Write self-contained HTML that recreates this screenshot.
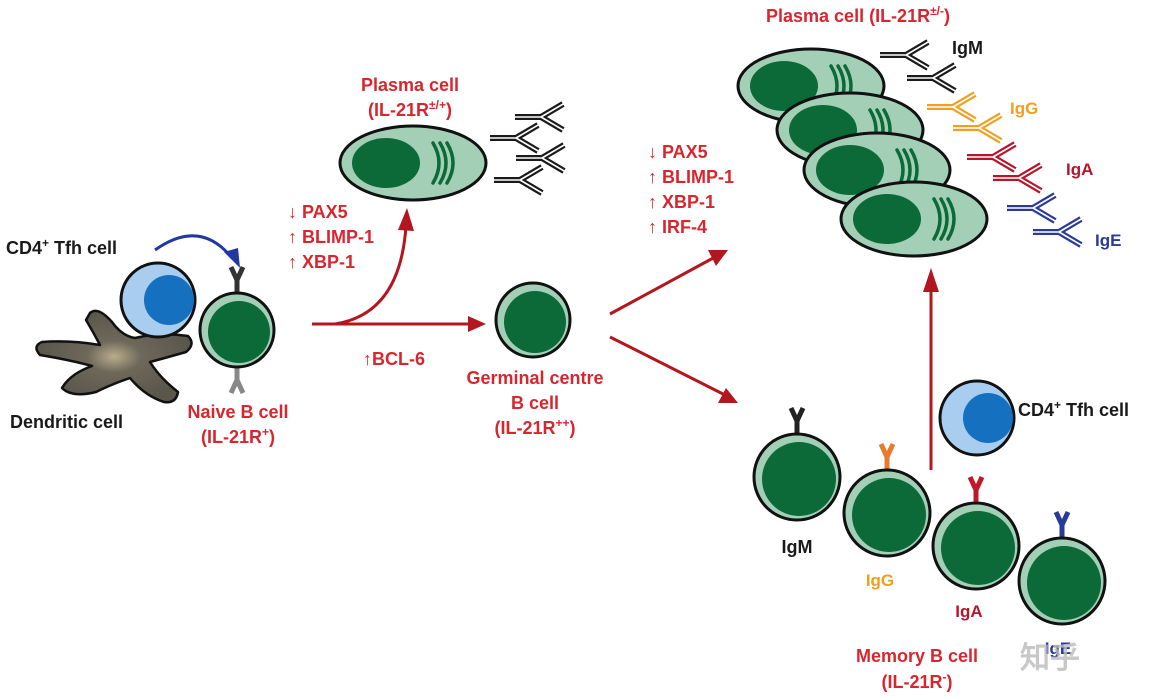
<!DOCTYPE html>
<html><head><meta charset="utf-8"><style>
html,body{margin:0;padding:0;background:#fff;}
svg{display:block;}
text{font-family:"Liberation Sans",Arial,sans-serif;font-weight:bold;}
.r{fill:#d8262f;font-size:18px;}
.k{fill:#1a1a1a;font-size:18px;}
</style></head><body>
<svg width="1158" height="699" viewBox="0 0 1158 699" xmlns="http://www.w3.org/2000/svg">
<defs>
<radialGradient id="dg" cx="0.5" cy="0.5" r="0.5">
<stop offset="0" stop-color="#b8ad8c"/><stop offset="0.35" stop-color="#6e685a"/><stop offset="1" stop-color="#5a564c"/>
</radialGradient>
<g id="ab">
<path d="M0,0 H26 M26,0 L48,-13 M26,0 L48,13" fill="none" stroke="currentColor" stroke-width="6"/>
<path d="M-1,0 H26 M26,0 L49,-13.5 M26,0 L49,13.5" fill="none" stroke="#fff" stroke-width="1.6"/>
</g>
<g id="pc">
<ellipse cx="0" cy="0" rx="73" ry="37" fill="#a3cfb6" stroke="#111" stroke-width="3"/>
<ellipse cx="-27" cy="0" rx="34" ry="25" fill="#0b6a37"/>
<path d="M20,-20 Q32,0 20,20 M27,-20 Q39,0 27,20 M34,-20 Q46,0 34,20" fill="none" stroke="#0b6a37" stroke-width="3.5" stroke-linecap="round"/>
</g>
<g id="bc">
<circle cx="0" cy="0" r="37" fill="#a3cfb6" stroke="#111" stroke-width="3"/>
<circle cx="2" cy="2" r="31" fill="#0b6a37"/>
</g>
<g id="bm">
<circle cx="0" cy="0" r="43" fill="#a3cfb6" stroke="#111" stroke-width="3"/>
<circle cx="2" cy="2" r="37" fill="#0b6a37"/>
</g>
<g id="tf">
<circle cx="0" cy="0" r="37" fill="#a8cdee" stroke="#111" stroke-width="3"/>
<circle cx="11" cy="0" r="25" fill="#1570c0"/>
</g>
<g id="y">
<path d="M0,0 V-13 M0,-13 L-6,-26 M0,-13 L6,-26" fill="none" stroke="currentColor" stroke-width="5"/>
</g>
</defs>

<!-- Dendritic cell -->
<path d="M90,313 Q98,306 112,322 Q122,336 135,338 Q160,332 188,336 Q196,344 186,352 Q165,358 150,362 Q160,378 178,392 Q176,404 164,402 Q145,396 130,378 Q112,384 96,392 Q72,398 62,388 Q70,374 92,366 Q70,360 40,355 Q32,346 42,342 Q70,340 100,345 Q92,330 86,320 Z" fill="url(#dg)" stroke="#111" stroke-width="2.5" stroke-linejoin="round"/>

<!-- Tfh & naive B -->
<use href="#tf" x="158" y="300"/>
<g color="#333"><use href="#y" x="237" y="293"/></g>
<g color="#888" transform="translate(237,367) scale(1,-1)"><use href="#y"/></g>
<use href="#bc" x="237" y="330"/>
<path d="M155,250 Q200,218 232,258" fill="none" stroke="#2238a0" stroke-width="3"/>
<path d="M224,252 L240,268 L238,248 Z" fill="#2238a0"/>
<text class="k" x="6" y="254">CD4<tspan font-size="12" dy="-7">+</tspan><tspan dy="7"> Tfh cell</tspan></text>
<text class="k" x="10" y="428">Dendritic cell</text>
<text class="r" x="238" y="418" text-anchor="middle">Naive B cell</text>
<text class="r" x="238" y="443" text-anchor="middle">(IL-21R<tspan font-size="12" dy="-7">+</tspan><tspan dy="7">)</tspan></text>

<!-- Plasma cell top -->
<text class="r" x="410" y="91" text-anchor="middle">Plasma cell</text>
<text class="r" x="410" y="116" text-anchor="middle">(IL-21R<tspan font-size="12" dy="-7">±/+</tspan><tspan dy="7">)</tspan></text>
<use href="#pc" x="413" y="163"/>
<g color="#1a1a1a">
<use href="#ab" x="515" y="117"/><use href="#ab" x="490" y="138"/>
<use href="#ab" x="516" y="158"/><use href="#ab" x="494" y="180"/>
</g>
<text class="r" x="288" y="218">↓ PAX5</text>
<text class="r" x="288" y="243">↑ BLIMP-1</text>
<text class="r" x="288" y="268">↑ XBP-1</text>

<!-- arrows from naive -->
<path d="M312,324 H470" stroke="#b3161f" stroke-width="3" fill="none"/>
<path d="M468,316 L486,324 L468,332 Z" fill="#b3161f"/>
<path d="M335,324 Q400,314 406,226" stroke="#b3161f" stroke-width="3" fill="none"/>
<path d="M398,230 L407,208 L414,231 Z" fill="#b3161f"/>
<text class="r" x="363" y="365">↑BCL-6</text>

<!-- GC B cell -->
<use href="#bc" x="533" y="320"/>
<text class="r" x="535" y="384" text-anchor="middle">Germinal centre</text>
<text class="r" x="535" y="409" text-anchor="middle">B cell</text>
<text class="r" x="535" y="434" text-anchor="middle">(IL-21R<tspan font-size="12" dy="-7">++</tspan><tspan dy="7">)</tspan></text>
<path d="M610,314 L715,257" stroke="#b3161f" stroke-width="3"/>
<path d="M708,250 L728,250 L716,266 Z" fill="#b3161f"/>
<path d="M610,337 L725,395" stroke="#b3161f" stroke-width="3"/>
<path d="M718,403 L738,403 L726,388 Z" fill="#b3161f"/>
<text class="r" x="648" y="158">↓ PAX5</text>
<text class="r" x="648" y="183">↑ BLIMP-1</text>
<text class="r" x="648" y="208">↑ XBP-1</text>
<text class="r" x="648" y="233">↑ IRF-4</text>

<!-- Plasma stack -->
<text class="r" x="766" y="22">Plasma cell (IL-21R<tspan font-size="12" dy="-7">±/-</tspan><tspan dy="7">)</tspan></text>
<use href="#pc" x="811" y="86"/>
<use href="#pc" x="850" y="130"/>
<use href="#pc" x="877" y="170"/>
<use href="#pc" x="914" y="219"/>
<g color="#1a1a1a"><use href="#ab" x="880" y="55"/><use href="#ab" x="907" y="78"/></g>
<g color="#f0a020"><use href="#ab" x="927" y="107"/><use href="#ab" x="953" y="128"/></g>
<g color="#b5162b"><use href="#ab" x="967" y="157"/><use href="#ab" x="993" y="178"/></g>
<g color="#2a3a9a"><use href="#ab" x="1007" y="208"/><use href="#ab" x="1033" y="232"/></g>
<text class="k" x="952" y="54" font-size="17">IgM</text>
<text x="1010" y="114" font-size="17" fill="#f0a020">IgG</text>
<text x="1066" y="175" font-size="17" fill="#b5162b">IgA</text>
<text x="1095" y="246" font-size="17" fill="#2a3a9a">IgE</text>

<!-- memory up arrow -->
<path d="M931,470 V290" stroke="#b3161f" stroke-width="3"/>
<path d="M923,292 L931,268 L939,292 Z" fill="#b3161f"/>

<use href="#tf" x="977" y="418"/>
<text class="k" x="1018" y="416">CD4<tspan font-size="12" dy="-7">+</tspan><tspan dy="7"> Tfh cell</tspan></text>

<!-- memory cells -->
<g color="#222"><use href="#y" x="797" y="434"/></g>
<use href="#bm" x="797" y="477"/>
<g color="#e87a2e"><use href="#y" x="887" y="470"/></g>
<use href="#bm" x="887" y="513"/>
<g color="#c0182a"><use href="#y" x="976" y="503"/></g>
<use href="#bm" x="976" y="546"/>
<g color="#2a3a9a"><use href="#y" x="1062" y="538"/></g>
<use href="#bm" x="1062" y="581"/>
<text class="k" x="797" y="553" text-anchor="middle" font-size="17">IgM</text>
<text x="880" y="586" text-anchor="middle" font-size="17" fill="#f0a020">IgG</text>
<text x="969" y="617" text-anchor="middle" font-size="17" fill="#b5162b">IgA</text>
<text x="1058" y="654" text-anchor="middle" font-size="17" fill="#2a3a9a">IgE</text>
<text class="r" x="917" y="662" text-anchor="middle" font-size="19">Memory B cell</text>
<text class="r" x="917" y="688" text-anchor="middle" font-size="19">(IL-21R<tspan font-size="12" dy="-7">-</tspan><tspan dy="7">)</tspan></text>
<text x="1020" y="668" font-size="30" fill="#bbb" opacity="0.8" font-family="Noto Sans CJK SC,sans-serif" font-weight="normal">知乎</text>
</svg>
</body></html>
